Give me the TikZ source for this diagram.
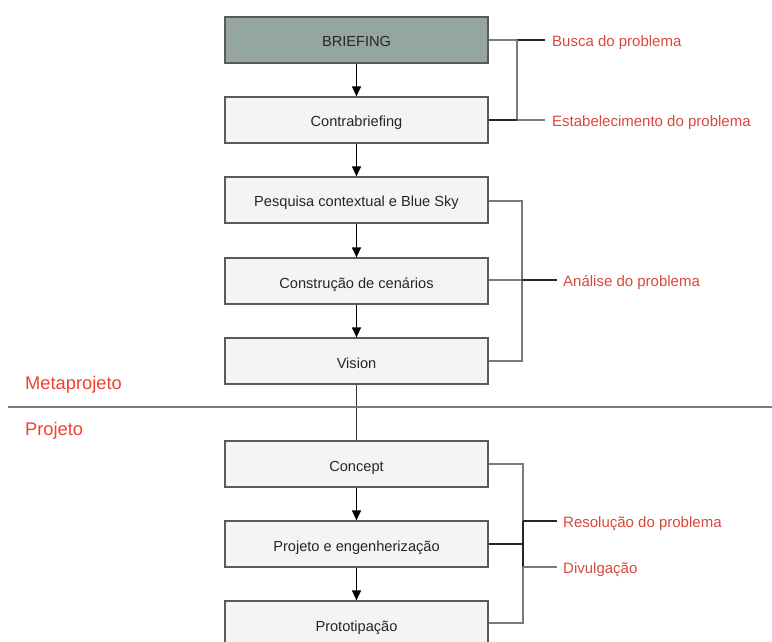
\documentclass[tikz,border=0pt]{standalone}
\usepackage{fontspec}
\setmainfont{Liberation Sans}
\usetikzlibrary{arrows.meta}
\definecolor{boxgray}{HTML}{F4F4F4}
\definecolor{boxdark}{HTML}{95A5A2}
\definecolor{edgegray}{HTML}{5A5A5A}
\definecolor{linkgray}{HTML}{7A7A7A}
\definecolor{linkdark}{HTML}{262626}
\definecolor{labelred}{HTML}{D9483C}
\definecolor{phasered}{HTML}{F2402E}
\tikzset{
  stepbox/.style={draw=edgegray, line width=1.2bp, fill=boxgray, rectangle,
    minimum width=263bp, minimum height=46bp, inner sep=0pt,
    text height=14bp, text depth=0pt,
    font=\fontsize{14.6bp}{17bp}\selectfont, text=black!85},
  flow/.style={draw=black, line width=1.2bp, -{Triangle[length=10bp,width=9bp]}},
  plain/.style={draw=black!80, line width=1.2bp},
  brk/.style={draw=linkgray, line width=1.5bp},
  brkd/.style={draw=linkdark, line width=1.5bp},
  tag/.style={anchor=base west, inner sep=0pt, text=labelred,
    font=\fontsize{15bp}{18bp}\selectfont},
  phase/.style={anchor=base west, inner sep=0pt, text=phasered,
    font=\fontsize{18.3bp}{22bp}\selectfont}
}
\begin{document}
\begin{tikzpicture}[x=1bp, y=-1bp]
\useasboundingbox (0,0) rectangle (772,642);
\clip (0,0) rectangle (772,642);

% process steps
\node[stepbox, fill=boxdark] (brief) at (356.5,40) {BRIEFING};
\node[stepbox] (contra) at (356.5,120) {Contrabriefing};
\node[stepbox] (pesq) at (356.5,200) {Pesquisa contextual e Blue Sky};
\node[stepbox] (cen) at (356.5,281) {Construção de cenários};
\node[stepbox] (vis) at (356.5,361) {Vision};
\node[stepbox] (conc) at (356.5,464) {Concept};
\node[stepbox] (proj) at (356.5,544) {Projeto e engenherização};
\node[stepbox] (proto) at (356.5,624) {Prototipação};

% flow between steps
\draw[flow] (brief) -- (contra);
\draw[flow] (contra) -- (pesq);
\draw[flow] (pesq) -- (cen);
\draw[flow] (cen) -- (vis);
\draw[plain] (vis) -- (conc);
\draw[flow] (conc) -- (proj);
\draw[flow] (proj) -- (proto);

% phase separator
\coordinate (sepL) at (8,407);
\coordinate (sepR) at (772,407);
\draw[draw=linkgray, line width=2bp] (sepL) -- (sepR);
\node[phase] (meta) at (25,389.5) {Metaprojeto};
\node[phase] (projeto) at (25,435.5) {Projeto};

% bracket: problem search / definition
\node[tag] (busca) at (552,46.5) {Busca do problema};
\node[tag] (estab) at (552,126.5) {Estabelecimento do problema};
\coordinate (b1t) at (517,40);
\coordinate (b1b) at (517,120);
\draw[brk] (brief.east |- b1t) -- (b1t);
\draw[brkd] (b1t) -- (545,40);
\draw[brk] (b1t) -- (b1b);
\draw[brkd] (contra.east |- b1b) -- (b1b);
\draw[brk] (b1b) -- (545,120);

% bracket: problem analysis
\node[tag] (anal) at (563,286.5) {Análise do problema};
\coordinate (b2t) at (522,201);
\coordinate (b2m) at (522,280);
\coordinate (b2b) at (522,361);
\draw[brk] (pesq.east |- b2t) -- (b2t) -- (b2b) -- (vis.east |- b2b);
\draw[brk] (cen.east |- b2m) -- (b2m);
\draw[brkd] (b2m) -- (557,280);

% bracket: problem resolution / dissemination
\node[tag] (resol) at (563,527) {Resolução do problema};
\node[tag] (divul) at (563,573) {Divulgação};
\coordinate (b3t) at (523,464);
\coordinate (b3r) at (523,521);
\coordinate (b3m) at (523,544);
\coordinate (b3d) at (523,567);
\coordinate (b3b) at (523,623);
\draw[brk] (conc.east |- b3t) -- (b3t) -- (b3b) -- (proto.east |- b3b);
\draw[brkd] (b3r) -- (b3d);
\draw[brkd] (proj.east |- b3m) -- (b3m);
\draw[brkd] (b3r) -- (557,521);
\draw[brk] (b3d) -- (557,567);
\end{tikzpicture}
\end{document}
